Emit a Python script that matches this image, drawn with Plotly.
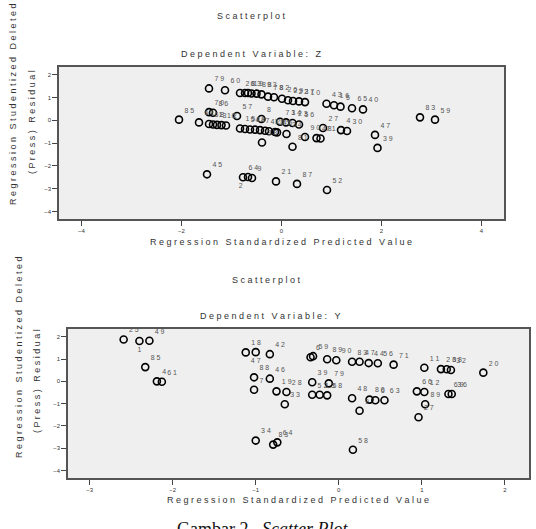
import plotly.graph_objects as go

W, H = 536, 529

# ---------- Data: top chart (Dependent Variable: Z) ----------
z_x = [-1.45, -1.13, -0.83, -0.73, -0.67, -0.60, -0.50, -0.40, -0.27, -0.15, 0.01, 0.13, 0.23, 0.35, 0.47,
       0.90, 1.05, 1.18, 1.41, 1.63,
       -1.45, -1.37, -0.89, -2.05, -1.65, -0.40,
       -1.45, -1.37, -1.29, -1.20, -1.11,
       -0.83, -0.73, -0.63, -0.53, -0.43, -0.33, -0.25, -0.13, -0.09,
       -0.03, 0.09, 0.22, 0.35,
       0.10, 0.83, 1.19, 1.31, 0.47, 0.70, 0.78, 1.87, 1.92, -0.39, 0.22, 2.77, 3.07,
       -1.49, -0.77, -0.67, -0.59, -0.11, 0.31, 0.91]
z_y = [1.40, 1.32, 1.20, 1.20, 1.20, 1.18, 1.17, 1.14, 1.04, 1.01, 0.95, 0.88, 0.85, 0.83, 0.80,
       0.73, 0.66, 0.60, 0.53, 0.48,
       0.36, 0.33, 0.19, 0.03, -0.09, 0.06,
       -0.16, -0.18, -0.20, -0.21, -0.23,
       -0.36, -0.38, -0.40, -0.41, -0.43, -0.46, -0.48, -0.51, -0.53,
       -0.06, -0.09, -0.12, -0.18,
       -0.60, -0.34, -0.43, -0.47, -0.73, -0.78, -0.80, -0.64, -1.21, -0.97, -1.16, 0.13, 0.03,
       -2.37, -2.50, -2.49, -2.53, -2.68, -2.79, -3.06]
z_lab = ["79", "60", "28", "6", "19", "3", "88", "93", "78", "82", "26", "29", "22", "37", "10",
         "43", "16", "5", "65", "40",
         "70", "86", "57", "85", "61", "8",
         "68", "1", "3", "12", "6",
         "15", "52", "48", "4", "7", "42", "18", "25", "46",
         "73", "14", "23", "56",
         "34", "27", "4", "30", "90", "48", "71", "47", "39", "38", "81", "83", "59",
         "45", "64", "2", "9", "21", "87", "52"]

# ---------- Data: bottom chart (Dependent Variable: Y) ----------
y_x = [-2.59, -2.40, -2.28, -2.33, -2.19, -2.13,
       -1.12, -1.00, -0.83, -1.02, -0.83, -1.02,
       -0.75, -0.63, -0.65, -0.34, -0.31, -0.14, -0.03, 0.16, 0.25, 0.36, 0.47, 0.66,
       -0.32, -0.12, -0.32, -0.23, -0.14, 0.16, 0.37, 0.44, 0.55, 0.25, 0.17,
       -1.00, -0.79, -0.74,
       0.94, 1.03, 1.04, 0.96, 1.03, 1.23, 1.30, 1.35, 1.32, 1.36, 1.74]
y_y = [1.88, 1.81, 1.82, 0.64, 0.00, -0.02,
       1.30, 1.31, 1.22, 0.18, 0.12, -0.38,
       -0.45, -0.48, -1.03, 1.08, 1.13, 0.99, 0.95, 0.88, 0.88, 0.82, 0.81, 0.75,
       -0.04, -0.09, -0.60, -0.60, -0.63, -0.76, -0.82, -0.85, -0.85, -1.32, -3.07,
       -2.66, -2.84, -2.74,
       -0.45, -0.48, -1.03, -1.61, 0.61, 0.55, 0.54, 0.51, -0.57, -0.57, 0.39]
y_lab = ["25", "1", "49", "85", "4", "61",
         "18", "47", "42", "88", "46", "7",
         "19", "28", "33", "6", "59", "89", "90", "83", "47", "44", "56", "71",
         "39", "79", "52", "13", "58", "48", "80", "6", "63", "9", "58",
         "34", "83", "64",
         "66", "12", "89", "27", "11", "26", "38", "32", "69", "36", "20"]

# label placement (style, kept separate from data)
z_pos = ["top right"] * len(z_x)
y_pos = ["top right"] * len(y_x)
for i, l in enumerate(y_lab):
    if l in ("1", "47", "88") and y_x[i] < -0.9 and y_y[i] > 1.25 or (l == "1" and y_x[i] < -2):
        y_pos[i] = "bottom center"
z_pos[z_lab.index("2")] = "bottom left"

x_ticks_top = [-4, -2, 0, 2, 4]
x_ticks_bot = [-3, -2, -1, 0, 1, 2]
y_ticks = [-4, -3, -2, -1, 0, 1, 2]


def spaced(s, gap=" ", word="\u00a0\u00a0\u00a0"):
    return word.join(gap.join(list(w)) for w in s.split(" "))


TXT = "#333333"
LABC = "#555555"
FONT = "Liberation Sans"

fig = go.Figure()
fig.add_trace(go.Scatter(
    x=z_x, y=z_y, mode="markers+text", xaxis="x", yaxis="y",
    text=[" ".join(l) for l in z_lab], textposition=z_pos,
    textfont=dict(size=7, color=LABC, family=FONT),
    marker=dict(symbol="circle-open", size=7, color="black", line=dict(width=1.6)),
    showlegend=False, cliponaxis=False))
fig.add_trace(go.Scatter(
    x=y_x, y=y_y, mode="markers+text", xaxis="x2", yaxis="y2",
    text=[" ".join(l) for l in y_lab], textposition=y_pos,
    textfont=dict(size=7, color=LABC, family=FONT),
    marker=dict(symbol="circle-open", size=7, color="black", line=dict(width=1.6)),
    showlegend=False, cliponaxis=False))

axis_common = dict(showline=True, linecolor="#555555", linewidth=1.5, mirror=True,
                   ticks="outside", ticklen=5, tickcolor="#444444", tickwidth=1,
                   showgrid=False, zeroline=False,
                   tickfont=dict(size=6, color=TXT, family=FONT))


def px_x(p):
    return p / W


def px_y(p):
    return 1 - p / H


fig.update_layout(
    width=W, height=H, autosize=False,
    margin=dict(l=0, r=0, t=0, b=0),
    paper_bgcolor="white", plot_bgcolor="#efefef",
    xaxis=dict(domain=[px_x(59), px_x(504)], range=[-4.45, 4.45], tickvals=x_ticks_top,
               anchor="y", **axis_common),
    yaxis=dict(domain=[px_y(219), px_y(67)], range=[-4.33, 2.34], tickvals=y_ticks,
               anchor="x", **axis_common),
    xaxis2=dict(domain=[px_x(68), px_x(529)], range=[-3.26, 2.29], tickvals=x_ticks_bot,
                anchor="y2", **axis_common),
    yaxis2=dict(domain=[px_y(478), px_y(329)], range=[-4.34, 2.35], tickvals=y_ticks,
                anchor="x2", **axis_common),
)
# second plot area background
fig.add_shape(type="rect", xref="x2 domain", yref="y2 domain", x0=0, x1=1, y0=0, y1=1,
              fillcolor="#efefef", line=dict(width=0), layer="below")

ann = []


def add_text(text, xp, yp, size=9, angle=0, color=TXT, family=FONT):
    ann.append(dict(text=text, x=px_x(xp), y=px_y(yp), xref="paper", yref="paper",
                    showarrow=False, textangle=angle, xanchor="center", yanchor="middle",
                    font=dict(size=size, color=color, family=family)))


# top chart texts
add_text(spaced("Scatterplot"), 251, 16)
add_text(spaced("Dependent Variable: Z"), 251, 54)
add_text(spaced("Regression Standardized Predicted Value"), 281, 242)
add_text(spaced("Regression Studentized Deleted"), 13, 104, angle=-90)
add_text(spaced("(Press) Residual"), 32, 122, angle=-90)

# bottom chart texts
add_text(spaced("Scatterplot"), 266, 280)
add_text(spaced("Dependent Variable: Y"), 270, 316)
add_text(spaced("Regression Standardized Predicted Value"), 298, 500)
add_text(spaced("Regression Studentized Deleted"), 19, 357, angle=-90)
add_text(spaced("(Press) Residual"), 37, 381, angle=-90)

# caption (cut off at the bottom edge)
ann.append(dict(text="Gambar 2.  <i>Scatter Plot</i>", x=px_x(262), y=px_y(517), xref="paper",
                yref="paper", showarrow=False, xanchor="center", yanchor="top",
                font=dict(size=18, color="#111111", family="Liberation Serif")))

fig.update_layout(annotations=ann)
fig.write_html("out.html")
